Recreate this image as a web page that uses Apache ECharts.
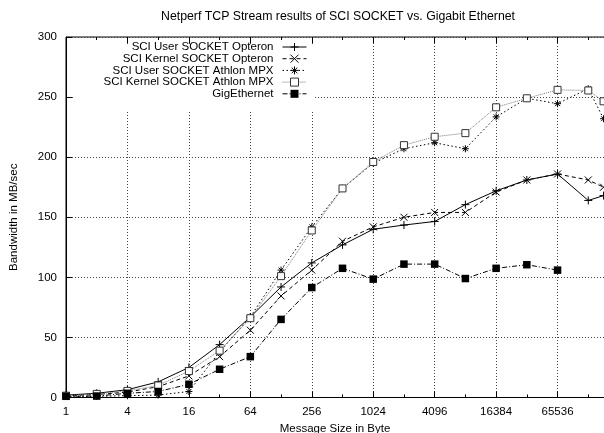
<!DOCTYPE html>
<html>
<head>
<meta charset="utf-8">
<script src="https://cdn.jsdelivr.net/npm/echarts@6/dist/echarts.min.js"></script>
<style>html,body{margin:0;padding:0;background:#fff}#c{width:604px;height:433px}</style>
</head>
<body>
<div id="c"></div>
<script>
// ---- data ----
const sizes = [1, 2, 4, 8, 16, 32, 64, 128, 256, 512, 1024, 2048, 4096, 8192, 16384, 32768, 65536, 131072, 185000];
const userOpteron   = [2, 3.5, 6.5, 13, 25, 44, 67, 92, 112, 127, 140, 143.5, 146.5, 160.5, 172, 181, 186, 164, 168];
const kernelOpteron = [1.5, 2.5, 4.5, 9, 18, 34, 56, 84.5, 106, 130, 142, 150, 154, 154, 171, 181, 186, 181, 175];
const userAthlon    = [1, 1, 1.5, 2, 5, 38, 67, 106, 142, 174, 195, 207, 212, 207, 233.5, 249, 244.5, 257, 232];
const kernelAthlon  = [1.5, 3, 5.5, 10, 22, 39, 66, 101, 139, 174, 196, 210, 217, 220, 241.5, 249, 256, 255.5, 246.5];
const gigEthernet   = [1, 1.2, 3.5, 5, 11, 23.5, 34, 65, 91.5, 107.5, 98.5, 111, 111, 99, 107.5, 110.5, 106];
const seriesNames = ['SCI User SOCKET Opteron', 'SCI Kernel SOCKET Opteron', 'SCI User SOCKET Athlon MPX', 'SCI Kernel SOCKET Athlon MPX', 'GigEthernet'];
const yTicks = [0, 50, 100, 150, 200, 250, 300];
const titleText = 'Netperf TCP Stream results of SCI SOCKET vs. Gigabit Ethernet';
const xName = 'Message Size in Byte';
const yName = 'Bandwidth in MB/sec';

// ---- styling ----
const FONT = 'Liberation Sans, Arial, Helvetica, sans-serif';
const PLUS = 'path://M0,5L10,5M5,0L5,10';
const CROSS = 'path://M0,0L10,10M10,0L0,10';
const STAR = 'path://M0,5L10,5M5,0L5,10M1.5,1.5L8.5,8.5M8.5,1.5L1.5,8.5';

function pairs(vals) { return vals.map((v, i) => [sizes[i], v]); }

const seriesDefs = [
  { data: userOpteron,   symbol: PLUS,  size: 8, line: { color: '#000', type: 'solid', width: 1 }, item: { color: 'transparent', borderColor: '#000', borderWidth: 1 } },
  { data: kernelOpteron, symbol: CROSS, size: 7, line: { color: '#000', type: [4, 3], width: 1 }, item: { color: 'transparent', borderColor: '#000', borderWidth: 1 } },
  { data: userAthlon,    symbol: STAR,  size: 7, line: { color: '#000', type: [1.5, 2.5], width: 1 }, item: { color: 'transparent', borderColor: '#000', borderWidth: 1 } },
  { data: kernelAthlon,  symbol: 'rect', size: 7, line: { color: '#777', type: [1, 1], width: 1 }, item: { color: '#fff', borderColor: '#333', borderWidth: 1 } },
  { data: gigEthernet,   symbol: 'rect', size: 7.5, line: { color: '#000', type: [5, 2, 1, 2], width: 1 }, item: { color: '#000', borderColor: '#000', borderWidth: 0 } }
];

const chart = echarts.init(document.getElementById('c'), null, { renderer: 'canvas' });

const logAxisBase = { type: 'log', logBase: 2, min: 1, max: 262144, gridIndex: 0 };

const option = {
  animation: false,
  backgroundColor: '#fff',
  title: {
    text: titleText, left: 161, top: 11, padding: 0,
    textStyle: { fontSize: 12.3, fontWeight: 'normal', fontFamily: FONT, color: '#000' }
  },
  grid: { left: 66, right: -15, top: 37, bottom: 35.5, containLabel: false, outerBoundsMode: 'none', show: true, borderColor: '#000', borderWidth: 1, backgroundColor: 'transparent' },
  legend: seriesNames.map((n, i) => ({
    data: [n], orient: 'vertical', right: 297, top: 41 + i * 11.7, align: 'right',
    itemWidth: 24, itemHeight: 10, padding: 0, selectedMode: false, z: 5,
    lineStyle: Object.assign({}, seriesDefs[i].line),
    itemStyle: Object.assign({}, seriesDefs[i].item),
    textStyle: { fontSize: 11.5, fontFamily: FONT, color: '#000', padding: [0, 4, 0, 0] }
  })),
  graphic: [{ type: 'rect', z: 1, shape: { x: 73, y: 44, width: 242, height: 66 }, style: { fill: '#fff' }, silent: true }],
  xAxis: [
    Object.assign({}, logAxisBase, {
      interval: 2, position: 'bottom',
      name: xName, nameLocation: 'middle', nameGap: 23,
      nameTextStyle: { fontSize: 11.5, fontFamily: FONT, color: '#000', padding: [0, 15, 0, 0] },
      axisLine: { show: true, lineStyle: { color: '#000', width: 1 } },
      axisTick: { show: true, inside: true, length: 6, lineStyle: { color: '#000' } },
      axisLabel: { show: true, showMaxLabel: false, margin: 8, fontSize: 11.5, fontFamily: FONT, color: '#000', formatter: v => String(Math.round(v)) },
      splitLine: { show: true, lineStyle: { color: '#444', type: [1, 2], width: 1 } },
      minorTick: { show: false }
    }),
    Object.assign({}, logAxisBase, {
      interval: 1, position: 'bottom',
      axisLine: { show: false }, axisLabel: { show: false }, splitLine: { show: false },
      axisTick: { show: true, inside: true, length: 3, lineStyle: { color: '#000' } }
    }),
    Object.assign({}, logAxisBase, {
      interval: 2, position: 'top', z: 3,
      axisLine: { show: false }, axisLabel: { show: false }, splitLine: { show: false },
      axisTick: { show: true, inside: true, length: 6, lineStyle: { color: '#000' } }
    }),
    Object.assign({}, logAxisBase, {
      interval: 1, position: 'top', z: 3,
      axisLine: { show: false }, axisLabel: { show: false }, splitLine: { show: false },
      axisTick: { show: true, inside: true, length: 3, lineStyle: { color: '#000' } }
    })
  ],
  yAxis: [{
    type: 'value', min: yTicks[0], max: yTicks[yTicks.length - 1], interval: yTicks[1] - yTicks[0],
    name: yName, nameLocation: 'middle', nameGap: 46,
    nameTextStyle: { fontSize: 11.5, fontFamily: FONT, color: '#000' },
    axisLine: { show: true, lineStyle: { color: '#000', width: 1 } },
    axisTick: { show: true, inside: true, length: 6, lineStyle: { color: '#000' } },
    axisLabel: { margin: 9, fontSize: 11.5, fontFamily: FONT, color: '#000' },
    splitLine: { show: true, lineStyle: { color: '#444', type: [1, 2], width: 1 } }
  }],
  series: seriesDefs.map((d, i) => ({
    name: seriesNames[i], type: 'line', xAxisIndex: 0, yAxisIndex: 0,
    data: pairs(d.data), symbol: d.symbol, symbolSize: d.size, showSymbol: true,
    lineStyle: d.line, itemStyle: d.item, z: 3 + i * 0.1,
    emphasis: { disabled: true }, clip: true
  }))
};
chart.setOption(option);
</script>
</body>
</html>
